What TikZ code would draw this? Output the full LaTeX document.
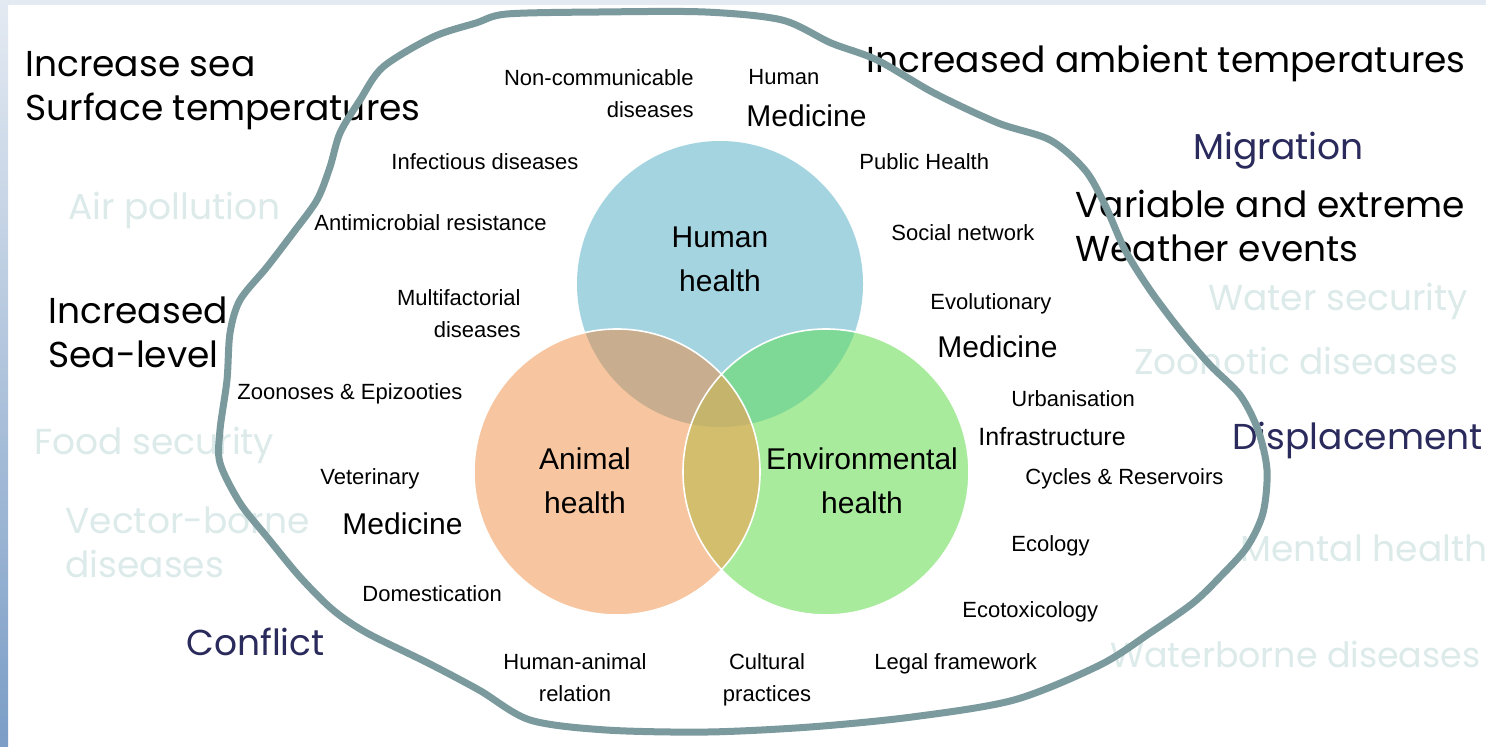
\documentclass[tikz,border=0pt]{standalone}
\usepackage{fontspec}
\setmainfont{Liberation Sans}
\newfontfamily\gothic{Poppins}
\usetikzlibrary{positioning}
\definecolor{humanblue}{HTML}{A4D4E0}
\definecolor{animalorange}{HTML}{F7C59F}
\definecolor{envgreen}{HTML}{A9EB9D}
\definecolor{humananimal}{HTML}{C8AE8E}
\definecolor{humanenv}{HTML}{7ED996}
\definecolor{animalenv}{HTML}{D2BE6D}
\definecolor{onehealth}{HTML}{C4B46C}
\definecolor{blobline}{HTML}{7B9A9E}
\definecolor{faintcyan}{HTML}{DCEAEA}
\definecolor{navyblue}{HTML}{2A2A5C}
\definecolor{topband}{HTML}{E4EAF2}
\definecolor{sidestrip}{HTML}{7B9DC6}
\tikzstyle{smalltxt} = [font=\fontsize{11}{16}\selectfont, inner sep=0pt, align=center]
\tikzstyle{medtxt} = [font=\fontsize{15}{18}\selectfont, inner sep=0pt]
\tikzstyle{circtxt} = [font=\fontsize{15}{22}\selectfont, inner sep=0pt, align=center]
\tikzstyle{bigtxt} = [font=\gothic\fontsize{18}{22}\selectfont, inner sep=0pt, align=left]
\tikzstyle{fainttxt} = [bigtxt, text=faintcyan]
\tikzstyle{navytxt} = [bigtxt, text=navyblue]
\tikzstyle{blob} = [draw=blobline, line width=3.5pt, line join=round]

\begin{document}
\begin{tikzpicture}[x=0.5pt, y=-0.5pt]
	\useasboundingbox (0,0) rectangle (1486,747);
	\fill[white] (0,0) rectangle (1486,747);
	\fill[topband] (0,0) rectangle (1486,5);
	\shade[top color=topband, bottom color=sidestrip] (0,0) rectangle (8,747);

	% faint background themes
	\node[fainttxt, anchor=north west] (air) at (68,192) {Air pollution};
	\node[fainttxt, anchor=north west] (food) at (34,427) {Food security};
	\node[fainttxt, anchor=north west] (vector) at (65,506) {Vector-borne\\diseases};
	\node[fainttxt, anchor=north west] (water) at (1208,283) {Water security};
	\node[fainttxt, anchor=north west] (zoo) at (1134,347) {Zoonotic diseases};
	\node[fainttxt, anchor=north west] (mental) at (1240,534) {Mental health};
	\node[fainttxt, anchor=north west, font=\gothic\fontsize{17.4}{22}\selectfont] (waterborne) at (1110,641) {Waterborne diseases};

	% venn circles
	\coordinate (hc) at (720,284);
	\coordinate (ac) at (617,472);
	\coordinate (ec) at (826,472);
	\fill[humanblue] (hc) circle (71.5pt);
	\fill[animalorange] (ac) circle (71.5pt);
	\fill[envgreen] (ec) circle (71.5pt);
	\begin{scope}
		\clip (hc) circle (71.5pt);
		\fill[humananimal] (ac) circle (71.5pt);
		\fill[humanenv] (ec) circle (71.5pt);
	\end{scope}
	\begin{scope}
		\clip (ac) circle (71.5pt);
		\fill[animalenv] (ec) circle (71.5pt);
		\clip (ec) circle (71.5pt);
		\fill[onehealth] (hc) circle (71.5pt);
	\end{scope}
	\draw[white, line width=0.8pt] (ac) circle (71.5pt) (ec) circle (71.5pt);

	\node[circtxt, anchor=north] (human) at (720,226) {Human\\health};
	\node[circtxt, anchor=north] (animal) at (585,447) {Animal\\health};
	\node[circtxt, anchor=north] (env) at (862,447) {Environmental\\health};

	% disciplines and topics
	\node[smalltxt, anchor=north east, align=right] (ncd) at (694,69) {Non-communicable\\diseases};
	\node[smalltxt, anchor=north west] (hum) at (748,69) {Human};
	\node[medtxt, anchor=north west] (hmed) at (746,104) {Medicine};
	\node[smalltxt, anchor=north west] (infect) at (391,153) {Infectious diseases};
	\node[smalltxt, anchor=north west] (public) at (859,153) {Public Health};
	\node[smalltxt, anchor=north west] (amr) at (314,214) {Antimicrobial resistance};
	\node[smalltxt, anchor=north west] (social) at (891,224) {Social network};
	\node[smalltxt, anchor=north east, align=right] (multi) at (521,289) {Multifactorial\\diseases};
	\node[smalltxt, anchor=north west] (evo) at (930,293) {Evolutionary};
	\node[medtxt, anchor=north west] (emed) at (937,335) {Medicine};
	\node[smalltxt, anchor=north west] (zoonoses) at (237,383) {Zoonoses \& Epizooties};
	\node[smalltxt, anchor=north west] (urban) at (1011,390) {Urbanisation};
	\node[smalltxt, anchor=north west, font=\fontsize{12.5}{15}\selectfont] (infra) at (978,427) {Infrastructure};
	\node[smalltxt, anchor=north west] (cycles) at (1025,468) {Cycles \& Reservoirs};
	\node[smalltxt, anchor=north west] (vet) at (320,468) {Veterinary};
	\node[medtxt, anchor=north west] (vmed) at (342,512) {Medicine};
	\node[smalltxt, anchor=north west] (eco) at (1011,535) {Ecology};
	\node[smalltxt, anchor=north west] (domest) at (362,585) {Domestication};
	\node[smalltxt, anchor=north west] (ecotox) at (962,601) {Ecotoxicology};
	\node[smalltxt, anchor=north] (hanimal) at (575,653) {Human-animal\\relation};
	\node[smalltxt, anchor=north] (cultural) at (767,653) {Cultural\\practices};
	\node[smalltxt, anchor=north west] (legal) at (874,653) {Legal framework};

	% climate drivers
	\node[bigtxt, anchor=north west] (sst) at (25,51) {Increase sea\\Surface temperatures};
	\node[bigtxt, anchor=north west] (ambient) at (866,45) {Increased ambient temperatures};
	\node[bigtxt, anchor=north west] (extreme) at (1075,190) {Variable and extreme\\Weather events};
	\node[bigtxt, anchor=north west] (sealevel) at (48,296) {Increased\\Sea-level};
	\node[navytxt, anchor=north west] (migr) at (1193,132) {Migration};
	\node[navytxt, anchor=north west] (displ) at (1232,422) {Displacement};
	\node[navytxt, anchor=north west] (confl) at (186,628) {Conflict};

	% one health boundary
	\draw[blob] plot[smooth cycle, tension=0.5] coordinates {
		(507,14) (600,12) (705,12) (782,20) (831,43) (877,60) (934,93)
		(998,123) (1050,140) (1085,170) (1105,205) (1125,250) (1150,290)
		(1180,330) (1210,365) (1240,395) (1258,430) (1267,470) (1263,513)
		(1247,547) (1220,577) (1193,603) (1150,633) (1100,665) (1014,700)
		(912,717) (810,727) (708,732) (606,730) (530,720) (479,690)
		(428,663) (367,633) (333,610) (300,577) (267,537) (240,503)
		(220,463) (220,430) (227,380) (230,333) (240,300) (267,267)
		(293,233) (317,200) (330,167) (340,133) (360,100) (383,67)
		(433,37) (476,23)};
\end{tikzpicture}
\end{document}
